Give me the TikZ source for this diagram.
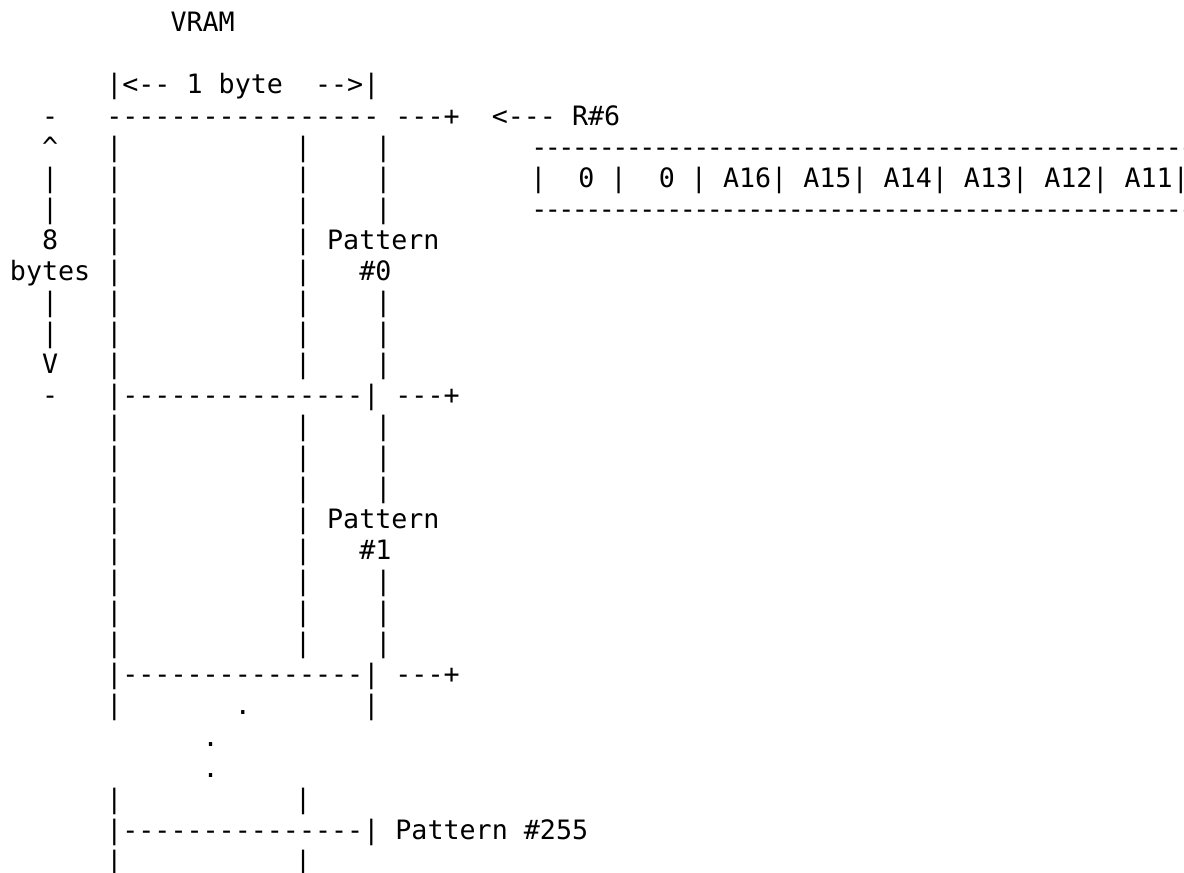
\documentclass[tikz,border=0pt]{standalone}
\usepackage{fontspec}
\setmonofont{DejaVu Sans Mono}

% grid of the text: column -> x, line -> baseline y
\newcommand{\colx}[1]{9.94+16.06*(#1)}
\newcommand{\rowy}[1]{125+31.05*((#1)-4)}
% row of tighter dashes above and below the register
\newcommand{\regrule}{\foreach \k in {1,...,48}{-\kern-2.56pt}-}

\tikzset{
  asc/.style={font=\ttfamily\fontsize{26.68}{31}\selectfont,
    anchor=base west, inner sep=0pt, outer sep=0pt}
}

\begin{document}
\begin{tikzpicture}[x=1pt,y=-1pt]
    \fill[white] (0,0) rectangle (1184,873);
    \useasboundingbox (0,0) rectangle (1184,873);

    % Title and width
    \node[asc] (vram) at ({\colx{10}},{\rowy{1}}) {VRAM};
    \node[asc] (width) at ({\colx{6}},{\rowy{3}}) {|<--~1~byte~~-->|};

    % Top edge and R#6
    \node[asc] (top) at ({\colx{2}},{\rowy{4}}) {-~~~-----------------~---+~~<---~R\#6};

    % 8 bytes arrow
    \node[asc] (up) at ({\colx{2}},{\rowy{5}}) {\textasciicircum~~~|};
    \node[asc] (a6) at ({\colx{2}},{\rowy{6}}) {|~~~|};
    \node[asc] (a7) at ({\colx{2}},{\rowy{7}}) {|~~~|};
    \node[asc] (eight) at ({\colx{2}},{\rowy{8}}) {8~~~|};
    \node[asc] (bytes) at ({\colx{0}},{\rowy{9}}) {bytes~|};
    \node[asc] (a10) at ({\colx{2}},{\rowy{10}}) {|~~~|};
    \node[asc] (a11) at ({\colx{2}},{\rowy{11}}) {|~~~|};
    \node[asc] (down) at ({\colx{2}},{\rowy{12}}) {V~~~|};
    \node[asc] (sep0) at ({\colx{2}},{\rowy{13}}) {-~~~|---------------|~---+};

    % Pattern #0 and #1 columns
    \foreach \r in {5,6,7,10,11,12,14,15,16,19,20,21}
        \node[asc] (col\r) at ({\colx{17.75}},{\rowy{\r}}) {|~~~~|};
    \foreach \r in {14,15,16,17,18,19,20,21}
        \node[asc] (left\r) at ({\colx{6}},{\rowy{\r}}) {|};
    \node[asc] (pat0) at ({\colx{17.75}},{\rowy{8}}) {|~Pattern};
    \node[asc] (num0) at ({\colx{17.75}},{\rowy{9}}) {|~~~\#0};
    \node[asc] (pat1) at ({\colx{17.75}},{\rowy{17}}) {|~Pattern};
    \node[asc] (num1) at ({\colx{17.75}},{\rowy{18}}) {|~~~\#1};
    \node[asc] (sep1) at ({\colx{6}},{\rowy{22}}) {|---------------|~---+};

    % Dots down to #255
    \node[asc] (dot1) at ({\colx{6}},{\rowy{23}}) {|~~~~~~~.~~~~~~~|};
    \node[asc] (dot2) at ({\colx{12}},{\rowy{24}}) {.};
    \node[asc] (dot3) at ({\colx{12}},{\rowy{25}}) {.};
    \foreach \r in {26,28} {
        \node[asc] (lastl\r) at ({\colx{6}},{\rowy{\r}}) {|};
        \node[asc] (lastr\r) at ({\colx{17.75}},{\rowy{\r}}) {|};
    }
    \node[asc] (sep255) at ({\colx{6}},{\rowy{27}}) {|---------------|~Pattern~\#255};

    % Register R#6
    \node[asc] (rtop) at (531.3,{\rowy{5}}) {\regrule};
    \node[asc] (reg) at (530.3,{\rowy{6}}) {|~~0~|~~0~|~A16|~A15|~A14|~A13|~A12|~A11|};
    \node[asc] (rbot) at (531.3,{\rowy{7}}) {\regrule};
\end{tikzpicture}
\end{document}
